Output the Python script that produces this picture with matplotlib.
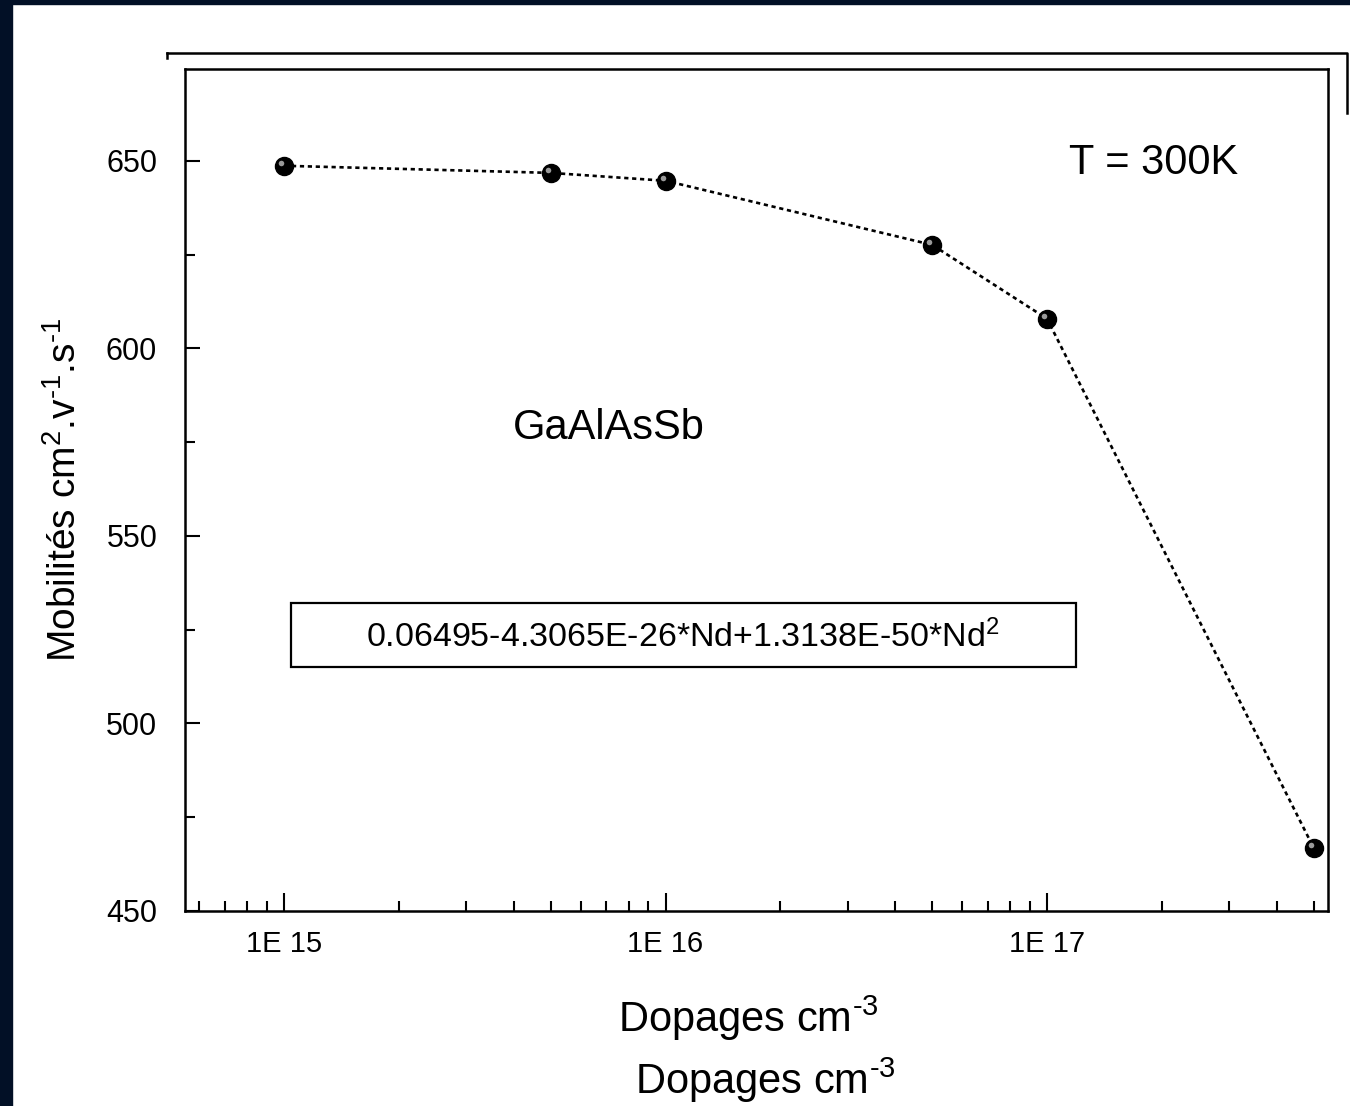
import matplotlib
matplotlib.use("Agg")
import matplotlib.pyplot as plt
from matplotlib.ticker import FixedLocator, LogLocator, NullFormatter, FuncFormatter, MultipleLocator
from matplotlib.patches import Rectangle
from matplotlib.lines import Line2D
import numpy as np

plt.rcParams['font.family'] = ['Liberation Sans', 'DejaVu Sans']
plt.rcParams['mathtext.fontset'] = 'custom'
plt.rcParams['mathtext.rm'] = 'Liberation Sans'
plt.rcParams['mathtext.it'] = 'Liberation Sans:italic'
plt.rcParams['mathtext.bf'] = 'Liberation Sans:bold'

# data
dopages = [1e15, 5e15, 1e16, 5e16, 1e17, 5e17]
mobilites = [648.7, 646.8, 644.7, 627.6, 607.9, 466.8]
xticks = [1e15, 1e16, 1e17]
yticks = [450, 500, 550, 600, 650]

fig = plt.figure(figsize=(13.5, 11.06), dpi=100)
fig.patch.set_facecolor('white')

# dark frame of the screenshot
navy = '#021026'
fig.add_artist(Rectangle((0, 0), 12 / 1350, 1, transform=fig.transFigure, color=navy, zorder=0))
fig.add_artist(Rectangle((0, 1 - 4 / 1106), 1, 4 / 1106, transform=fig.transFigure, color=navy, zorder=0))

# leftover outer frame line
W, H = 1350.0, 1106.0
fig.add_artist(Line2D([167 / W, 1347 / W, 1347 / W], [1 - 53 / H, 1 - 53 / H, 1 - 113 / H],
                      transform=fig.transFigure, color='black', lw=1.8))
fig.add_artist(Line2D([167 / W, 167 / W], [1 - 53 / H, 1 - 58 / H],
                      transform=fig.transFigure, color='black', lw=1.8))

ax = fig.add_axes([185 / W, 195 / H, 1143 / W, 842 / H])
ax.plot(dopages, mobilites, color='black', lw=1.9, linestyle=(0, (1.6, 1.4)),
        marker='o', markersize=13, markerfacecolor='black', markeredgecolor='black', zorder=3)
ax.plot(dopages, mobilites, linestyle='none', marker='o', markersize=4,
        markerfacecolor='#9a9a9a', markeredgewidth=0, zorder=4,
        transform=ax.transData + matplotlib.transforms.ScaledTranslation(-2 / 72, 2 / 72, fig.dpi_scale_trans))

ax.set_xscale('log')
ax.set_xlim(5.5e14, 5.45e17)
ax.set_ylim(450, 674.5)

ax.xaxis.set_major_locator(FixedLocator(xticks))
ax.xaxis.set_major_formatter(FuncFormatter(lambda v, p: '1E %d' % round(np.log10(v))))
ax.xaxis.set_minor_locator(LogLocator(base=10, subs=np.arange(2, 10)))
ax.xaxis.set_minor_formatter(NullFormatter())
ax.yaxis.set_major_locator(FixedLocator(yticks))
ax.yaxis.set_minor_locator(MultipleLocator(25))

for s in ax.spines.values():
    s.set_linewidth(1.8)

ax.tick_params(axis='both', which='both', direction='in', top=False, right=False, width=1.5)
ax.tick_params(axis='x', which='major', length=13, labelsize=21, pad=14)
ax.tick_params(axis='x', which='minor', length=7)
ax.tick_params(axis='y', which='major', length=11, labelsize=22, pad=20)
ax.tick_params(axis='y', which='minor', length=7)
for lab in ax.get_yticklabels():
    lab.set_fontstretch('expanded')

ax.set_ylabel('Mobilités cm$^2$.v$^{‐1}$.s$^{‐1}$', fontsize=28, labelpad=16)

ax.text(0.8478, 0.888, 'T = 300K', transform=ax.transAxes, fontsize=30, ha='center', va='center')
ax.text(0.371, 0.5736, 'GaAlAsSb', transform=ax.transAxes, fontsize=30, ha='center', va='center')

ax.add_patch(Rectangle((0.0927, 0.2898), 0.7795 - 0.0927, 0.3658 - 0.2898,
                       transform=ax.transAxes, fill=False, edgecolor='black', lw=1.6))
ax.text(0.4357, 0.3254, '0.06495-4.3065E-26*Nd+1.3138E-50*Nd$^2$', transform=ax.transAxes,
        fontsize=24.5, ha='center', va='center')

fig.text(748 / W, 1 - 1018 / H, 'Dopages cm$^{‐3}$', fontsize=30, ha='center', va='center')
fig.text(765 / W, 1 - 1080 / H, 'Dopages cm$^{‐3}$', fontsize=30, ha='center', va='center')

fig.savefig('out.png', dpi=100, facecolor='white')
